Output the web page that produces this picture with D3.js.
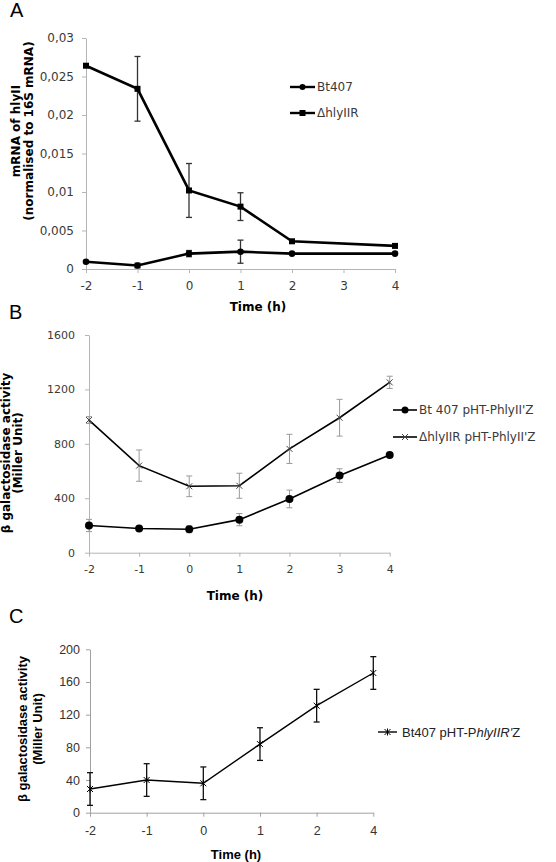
<!DOCTYPE html>
<html><head><meta charset="utf-8">
<script src="https://cdn.jsdelivr.net/npm/d3@7"></script>
<style>body{margin:0;background:#fff}svg{display:block}</style>
</head><body>
<svg id="c" width="556" height="862"></svg>
<script>
// ---- Panel A data ----
const timesA = [-2, -1, 0, 1, 2, 4];
const xTicksA = [-2, -1, 0, 1, 2, 3, 4];
const yTicksA = [0, 0.005, 0.01, 0.015, 0.02, 0.025, 0.03];
const yTickLabelsA = ["0", "0,005", "0,01", "0,015", "0,02", "0,025", "0,03"];
const bt407A = [0.00095, 0.00045, 0.002, 0.00225, 0.002, 0.002];
const bt407AErr = [0, 0.0003, 0.0004, 0.0015, 0, 0];
const hlyA = [0.0264, 0.0234, 0.0102, 0.0081, 0.0036, 0.003];
const hlyAErr = [0, 0.0042, 0.0035, 0.0018, 0, 0];
const seriesNamesA = ["Bt407", "\u0394hlyIIR"];

// ---- Panel B data ----
const timesB = [-2, -1, 0, 1, 2, 3, 4];
const xTicksB = [-2, -1, 0, 1, 2, 3, 4];
const yTicksB = [0, 400, 800, 1200, 1600];
const bt407B = [200, 178, 172, 243, 395, 567, 718];
const bt407BErr = [45, 10, 25, 45, 65, 50, 8];
const hlyB = [975, 640, 488, 492, 763, 992, 1252];
const hlyBErr = [25, 115, 76, 92, 107, 135, 45];
const seriesNamesB = ["Bt 407 pHT-PhlyII'Z", "\u0394hlyIIR pHT-PhlyII'Z"];

// ---- Panel C data ----
const catsC = ["-2", "-1", "0", "1", "2", "4"];
const yTicksC = [0, 40, 80, 120, 160, 200];
const bt407C = [29, 40, 36, 84, 131, 171];
const bt407CErr = [20, 20, 20, 20, 20, 20];

const svg = d3.select("#c");
const VER = "'DejaVu Sans', Verdana, sans-serif";
const ARI = "'Liberation Sans', Arial, sans-serif";

function axes(g, x, y, xt, yt, ytl, opt) {
  const xa = g.append("g").attr("transform", `translate(0,${y.range()[0]})`)
    .call(d3.axisBottom(x).tickValues(xt).tickSize(4).tickSizeOuter(0).tickPadding(opt.xpad)
      .tickFormat(opt.xfmt || (d => d)));
  const ya = g.append("g").attr("transform", `translate(${x.range()[0]},0)`)
    .call(d3.axisLeft(y).tickValues(yt).tickSize(4).tickSizeOuter(0).tickPadding(opt.ypad)
      .tickFormat((d, i) => ytl ? ytl[i] : d));
  [xa, ya].forEach(a => {
    a.select(".domain").attr("stroke", opt.axis).attr("stroke-width", 1);
    a.selectAll(".tick line").attr("stroke", opt.axis);
    a.selectAll("text").attr("fill", opt.tc).style("font-family", opt.font).style("font-size", opt.fs + "px");
  });
}

function errBars(g, x, y, xs, vs, es, color, cap, sw) {
  const d = xs.map((t, i) => ({t, v: vs[i], e: es[i]})).filter(d => d.e > 0);
  const eg = g.append("g").attr("stroke", color).attr("stroke-width", sw).attr("fill", "none");
  d.forEach(p => {
    const cx = x(p.t), y1 = y(p.v + p.e), y2 = y(p.v - p.e);
    eg.append("line").attr("x1", cx).attr("x2", cx).attr("y1", y1).attr("y2", y2);
    eg.append("line").attr("x1", cx - cap).attr("x2", cx + cap).attr("y1", y1).attr("y2", y1);
    eg.append("line").attr("x1", cx - cap).attr("x2", cx + cap).attr("y1", y2).attr("y2", y2);
  });
}

function yTitle(g, lines, cy, xs, font, fs) {
  lines.forEach((t, i) => {
    g.append("text").attr("transform", `translate(${xs[i]},${cy}) rotate(-90)`)
      .attr("text-anchor", "middle").style("font-family", font).style("font-size", fs + "px")
      .style("font-weight", "bold").attr("fill", "#000").text(t);
  });
}

// ================= Panel A =================
{
  const g = svg.append("g");
  const x = d3.scaleLinear().domain([-2, 4]).range([86, 395]);
  const y = d3.scaleLinear().domain([0, 0.03]).range([269, 38]);
  axes(g, x, y, xTicksA, yTicksA, yTickLabelsA, {axis: "#b5b5b5", tc: "#3a3a3a", font: VER, fs: 12, xpad: 8, ypad: 8});
  errBars(g, x, y, timesA, hlyA, hlyAErr, "#333", 3, 1.3);
  errBars(g, x, y, timesA, bt407A, bt407AErr, "#333", 3, 1.3);
  const line = d3.line().x(d => x(d[0])).y(d => y(d[1]));
  [[bt407A, "c"], [hlyA, "s"]].forEach(([vals, m]) => {
    const pts = timesA.map((t, i) => [t, vals[i]]);
    g.append("path").attr("d", line(pts)).attr("fill", "none").attr("stroke", "#000").attr("stroke-width", 2.6);
    pts.forEach(p => {
      if (m === "c") g.append("circle").attr("cx", x(p[0])).attr("cy", y(p[1])).attr("r", 3.3).attr("fill", "#000");
      else g.append("rect").attr("x", x(p[0]) - 3).attr("y", y(p[1]) - 3).attr("width", 6).attr("height", 6).attr("fill", "#000");
    });
  });
  // legend
  const ly = [87, 113];
  seriesNamesA.forEach((n, i) => {
    g.append("line").attr("x1", 290).attr("x2", 315).attr("y1", ly[i]).attr("y2", ly[i]).attr("stroke", "#000").attr("stroke-width", 2.4);
    if (i === 0) g.append("circle").attr("cx", 302.5).attr("cy", ly[i]).attr("r", 3).attr("fill", "#000");
    else g.append("rect").attr("x", 299.5).attr("y", ly[i] - 3).attr("width", 6).attr("height", 6).attr("fill", "#000");
    g.append("text").attr("x", 317).attr("y", ly[i]).attr("dy", "0.35em").style("font-family", VER).style("font-size", "12px").attr("fill", "#3a3a3a").text(n);
  });
  g.append("text").attr("x", 258).attr("y", 311).attr("text-anchor", "middle").style("font-family", VER).style("font-size", "12px").style("font-weight", "bold").text("Time (h)");
  yTitle(g, ["mRNA of hlyII", "(normalised to 16S mRNA)"], 131, [20, 33], VER, 12);
  g.append("text").attr("x", 10).attr("y", 17).style("font-family", ARI).style("font-size", "20px").text("A");
}

// ================= Panel B =================
{
  const g = svg.append("g");
  const x = d3.scaleLinear().domain([-2, 4]).range([89, 389.7]);
  const y = d3.scaleLinear().domain([0, 1600]).range([552.7, 335]);
  axes(g, x, y, xTicksB, yTicksB, null, {axis: "#b5b5b5", tc: "#3a3a3a", font: VER, fs: 11, xpad: 9, ypad: 10});
  errBars(g, x, y, timesB, hlyB, hlyBErr, "#9a9a9a", 3, 1);
  errBars(g, x, y, timesB, bt407B, bt407BErr, "#9a9a9a", 3, 1);
  const line = d3.line().x(d => x(d[0])).y(d => y(d[1]));
  [[bt407B, "c"], [hlyB, "x"]].forEach(([vals, m]) => {
    const pts = timesB.map((t, i) => [t, vals[i]]);
    g.append("path").attr("d", line(pts)).attr("fill", "none").attr("stroke", "#000").attr("stroke-width", 1.6);
    pts.forEach(p => {
      const cx = x(p[0]), cy = y(p[1]);
      if (m === "c") g.append("circle").attr("cx", cx).attr("cy", cy).attr("r", 4).attr("fill", "#000");
      else g.append("path").attr("d", `M${cx - 3},${cy - 3}L${cx + 3},${cy + 3}M${cx - 3},${cy + 3}L${cx + 3},${cy - 3}`).attr("stroke", "#444").attr("stroke-width", 1);
    });
  });
  const ly = [410, 437];
  seriesNamesB.forEach((n, i) => {
    g.append("line").attr("x1", 393).attr("x2", 417).attr("y1", ly[i]).attr("y2", ly[i]).attr("stroke", "#000").attr("stroke-width", 1.6);
    const cx = 405, cy = ly[i];
    if (i === 0) g.append("circle").attr("cx", cx).attr("cy", cy).attr("r", 3.5).attr("fill", "#000");
    else g.append("path").attr("d", `M${cx - 3},${cy - 3}L${cx + 3},${cy + 3}M${cx - 3},${cy + 3}L${cx + 3},${cy - 3}`).attr("stroke", "#444").attr("stroke-width", 1);
    g.append("text").attr("x", 419).attr("y", ly[i]).attr("dy", "0.35em").style("font-family", VER).style("font-size", "12px").attr("fill", "#3a3a3a").text(n);
  });
  g.append("text").attr("x", 235).attr("y", 600).attr("text-anchor", "middle").style("font-family", VER).style("font-size", "12px").style("font-weight", "bold").text("Time (h)");
  yTitle(g, ["\u03b2 galactosidase activity", "(Miller Unit)"], 453, [9.5, 22], VER, 12);
  g.append("text").attr("x", 9).attr("y", 319).style("font-family", ARI).style("font-size", "20px").text("B");
}

// ================= Panel C =================
{
  const g = svg.append("g");
  const x = d3.scalePoint().domain(catsC).range([90, 373.3]);
  const y = d3.scaleLinear().domain([0, 200]).range([812.7, 649.3]);
  axes(g, x, y, catsC, yTicksC, null, {axis: "#a0a0a0", tc: "#333", font: ARI, fs: 12.5, xpad: 9, ypad: 6});
  errBars(g, x, y, catsC, bt407C, bt407CErr, "#111", 3, 1.3);
  const line = d3.line().x(d => x(d[0])).y(d => y(d[1]));
  const pts = catsC.map((c, i) => [c, bt407C[i]]);
  g.append("path").attr("d", line(pts)).attr("fill", "none").attr("stroke", "#000").attr("stroke-width", 1.4);
  const star = (cx, cy) => `M${cx - 3},${cy - 3}L${cx + 3},${cy + 3}M${cx - 3},${cy + 3}L${cx + 3},${cy - 3}M${cx},${cy - 3.5}L${cx},${cy + 3.5}`;
  pts.forEach(p => g.append("path").attr("d", star(x(p[0]), y(p[1]))).attr("stroke", "#000").attr("stroke-width", 1));
  g.append("line").attr("x1", 378).attr("x2", 397).attr("y1", 732).attr("y2", 732).attr("stroke", "#000").attr("stroke-width", 1.4);
  g.append("path").attr("d", star(387.5, 732)).attr("stroke", "#000").attr("stroke-width", 1);
  const lt = g.append("text").attr("x", 402).attr("y", 732).attr("dy", "0.35em").style("font-family", ARI).style("font-size", "13px").attr("fill", "#222");
  lt.append("tspan").text("Bt407 pHT-P");
  lt.append("tspan").style("font-style", "italic").text("hlyIIR'");
  lt.append("tspan").text("Z");
  g.append("text").attr("x", 236).attr("y", 859).attr("text-anchor", "middle").style("font-family", ARI).style("font-size", "13px").style("font-weight", "bold").text("Time (h)");
  yTitle(g, ["\u03b2 galactosidase activity", "(Miller Unit)"], 729, [27, 42], ARI, 13);
  g.append("text").attr("x", 9).attr("y", 623).style("font-family", ARI).style("font-size", "20px").text("C");
}
</script>
</body></html>
